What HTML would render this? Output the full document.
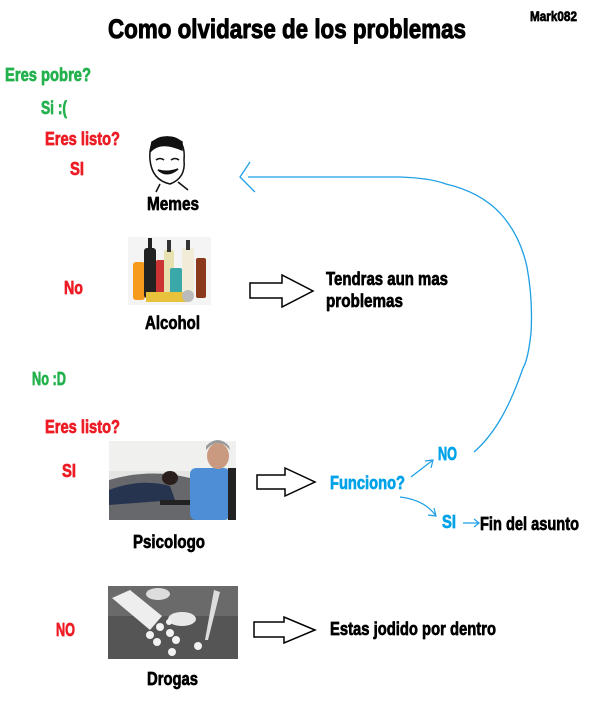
<!DOCTYPE html>
<html><head><meta charset="utf-8"><style>
html,body{margin:0;padding:0;background:#fff}
svg{display:block}
text{font-family:"Liberation Sans Narrow","Liberation Sans",sans-serif;font-weight:bold;stroke-width:0.7;stroke-linejoin:round}
.g{fill:#22b14c;stroke:#22b14c}.r{fill:#ed1c24;stroke:#ed1c24}.b{fill:#00a2e8;stroke:#00a2e8}.k{fill:#000;stroke:#000}
</style></head><body>
<svg width="600" height="714" viewBox="0 0 600 714" xmlns="http://www.w3.org/2000/svg">
<text x="108" y="38" font-size="27" textLength="358" lengthAdjust="spacingAndGlyphs" class="k" style="stroke-width:1">Como olvidarse de los problemas</text>
<text x="530" y="21" font-size="14" textLength="47" lengthAdjust="spacingAndGlyphs" class="k">Mark082</text>

<text x="5" y="81" font-size="18" textLength="86" lengthAdjust="spacingAndGlyphs" class="g">Eres pobre?</text>
<text x="41" y="114" font-size="18" textLength="26" lengthAdjust="spacingAndGlyphs" class="g">Si :(</text>
<text x="45" y="145" font-size="18" textLength="75" lengthAdjust="spacingAndGlyphs" class="r">Eres listo?</text>
<text x="70" y="175" font-size="18" textLength="14" lengthAdjust="spacingAndGlyphs" class="r">SI</text>

<!-- face -->
<g stroke="#111" fill="none" stroke-width="1.5">
<path d="M150 160 Q148 136 168 137 Q186 137 184 160 Q186 178 170 184 Q152 180 150 160Z" fill="#fff"/>
<path d="M150 152 Q160 140 182 150 L182 142 Q168 132 152 142Z" fill="#111"/>
<path d="M156 160 q4 -3 8 0 M171 160 q4 -3 8 0"/>
<path d="M158 170 Q167 178 178 169 Q168 173 158 170Z" fill="#111"/>
<path d="M160 184 L156 192 M178 182 L188 190"/>
</g>
<text x="147" y="210" font-size="18" textLength="52" lengthAdjust="spacingAndGlyphs" class="k">Memes</text>

<!-- bottles -->
<g>
<rect x="128" y="237" width="83" height="68" fill="#f4f4f4"/>
<rect x="133" y="262" width="12" height="38" fill="#f59a1c" rx="3"/>
<rect x="144" y="248" width="12" height="50" fill="#222" rx="3"/><rect x="148" y="238" width="4" height="12" fill="#222"/>
<rect x="156" y="260" width="10" height="38" fill="#c33" rx="2"/>
<rect x="164" y="250" width="10" height="46" fill="#e9e0b0" rx="2"/><rect x="167" y="240" width="4" height="12" fill="#333"/>
<rect x="170" y="268" width="12" height="28" fill="#3aa7a8" rx="2"/>
<rect x="182" y="248" width="12" height="48" fill="#f1ecd8" rx="2"/><rect x="186" y="240" width="4" height="10" fill="#333"/>
<rect x="196" y="258" width="10" height="40" fill="#8a3a1a" rx="2"/>
<rect x="146" y="292" width="42" height="10" fill="#e8c23a"/>
<circle cx="188" cy="296" r="6" fill="#bbb"/>
</g>
<text x="64" y="294" font-size="18" textLength="19" lengthAdjust="spacingAndGlyphs" class="r">No</text>
<path d="M250 283 H282 V275 L313 291 L282 307 V298 H250Z" fill="#fff" stroke="#000" stroke-width="1.5"/>
<text x="326" y="285" font-size="18" textLength="122" lengthAdjust="spacingAndGlyphs" class="k">Tendras aun mas</text>
<text x="326" y="307" font-size="18" textLength="77" lengthAdjust="spacingAndGlyphs" class="k">problemas</text>
<text x="145" y="329" font-size="18" textLength="55" lengthAdjust="spacingAndGlyphs" class="k">Alcohol</text>

<!-- blue loop -->
<g stroke="#1e9fe6" fill="none" stroke-width="1.3">
<path d="M248 177 L400 177 Q430 178 446 184 Q480 192 500 213 Q520 235 527 267 Q533 300 531 333 Q528 360 523 368 Q512 400 500 420 Q488 440 474 452"/>
<path d="M250 162 L240 177 L255 192"/>
</g>

<text x="32" y="385" font-size="18" textLength="34" lengthAdjust="spacingAndGlyphs" class="g">No :D</text>
<text x="45" y="433" font-size="18" textLength="75" lengthAdjust="spacingAndGlyphs" class="r">Eres listo?</text>

<!-- psychologist -->
<g>
<rect x="109" y="441" width="127" height="79" fill="#e4e4e2"/>
<rect x="109" y="441" width="127" height="30" fill="#f0f0ee"/>
<path d="M109 480 Q150 468 190 478 L200 520 L109 520Z" fill="#66686c"/>
<path d="M109 490 Q140 478 170 486 L175 500 L109 505Z" fill="#27344f"/>
<ellipse cx="170" cy="478" rx="8" ry="7" fill="#2a1f1c"/>
<rect x="190" y="468" width="40" height="52" fill="#4d8ed6" rx="6"/>
<ellipse cx="218" cy="456" rx="11" ry="13" fill="#c99a80"/>
<path d="M206 450 Q218 436 230 450 L229 446 Q218 434 206 446Z" fill="#9a9a9a"/>
<rect x="160" y="500" width="30" height="5" fill="#222"/>
<rect x="228" y="468" width="8" height="52" fill="#222"/>
</g>
<text x="62" y="477" font-size="18" textLength="14" lengthAdjust="spacingAndGlyphs" class="r">SI</text>
<path d="M257 475 H285 V468 L315 482 L285 496 V489 H257Z" fill="#fff" stroke="#000" stroke-width="1.5"/>
<text x="330" y="489" font-size="18" textLength="75" lengthAdjust="spacingAndGlyphs" class="b">Funciono?</text>
<text x="438" y="460" font-size="18" textLength="19" lengthAdjust="spacingAndGlyphs" class="b">NO</text>
<text x="442" y="528" font-size="18" textLength="14" lengthAdjust="spacingAndGlyphs" class="b">SI</text>
<g stroke="#1e9fe6" fill="none" stroke-width="1.2">
<path d="M411 477 L433 460 M425 461 L433 460 L431 468"/>
<path d="M400 497 Q425 500 436 516 M428 515 L436 516 L434 508"/>
<path d="M463 523 H479 M474 519 L479 523 L474 527"/>
</g>
<text x="480" y="530" font-size="18" textLength="99" lengthAdjust="spacingAndGlyphs" class="k">Fin del asunto</text>
<text x="133" y="548" font-size="18" textLength="72" lengthAdjust="spacingAndGlyphs" class="k">Psicologo</text>

<!-- drugs -->
<g>
<rect x="108" y="586" width="130" height="73" fill="#555"/>
<rect x="108" y="586" width="130" height="30" fill="#6a6a6a"/>
<path d="M112 598 L130 590 L162 616 L150 630Z" fill="#eee"/>
<ellipse cx="158" cy="594" rx="12" ry="6" fill="#ddd"/>
<ellipse cx="182" cy="619" rx="14" ry="7" fill="#e8e8e8"/>
<path d="M214 590 L220 592 L208 640 L205 640Z" fill="#ddd"/>
<g fill="#f2f2f2"><circle cx="150" cy="635" r="4"/><circle cx="160" cy="627" r="4"/><circle cx="170" cy="633" r="4"/><circle cx="176" cy="640" r="4"/><circle cx="157" cy="642" r="4"/><circle cx="172" cy="652" r="4"/><circle cx="198" cy="646" r="4"/><circle cx="169" cy="622" r="3"/></g>
</g>
<text x="56" y="636" font-size="18" textLength="19" lengthAdjust="spacingAndGlyphs" class="r">NO</text>
<path d="M254 622 H284 V617 L315 630 L284 643 V637 H254Z" fill="#fff" stroke="#000" stroke-width="1.5"/>
<text x="330" y="635" font-size="18" textLength="166" lengthAdjust="spacingAndGlyphs" class="k">Estas jodido por dentro</text>
<text x="147" y="685" font-size="18" textLength="51" lengthAdjust="spacingAndGlyphs" class="k">Drogas</text>
</svg>
</body></html>
